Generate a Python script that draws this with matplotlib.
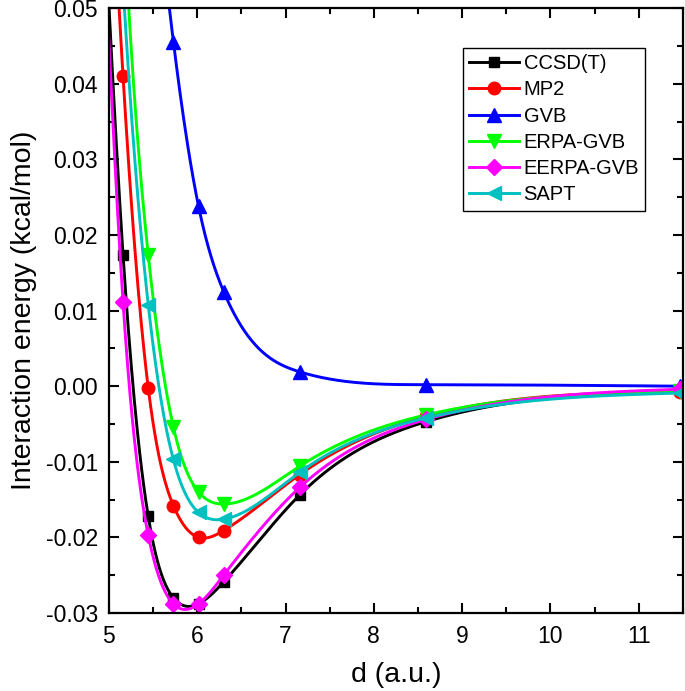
import numpy as np
import matplotlib
matplotlib.use('Agg')
import matplotlib.pyplot as plt

plt.rcParams['font.family'] = ['Liberation Sans', 'DejaVu Sans']

# Separation d (a.u.); first point lies just left of the frame
d = [4.875, 5.16, 5.445, 5.73, 6.015, 6.30, 7.16, 8.59, 11.47]

# Interaction energies (kcal/mol)
ccsdt = [0.080, 0.0174, -0.0172, -0.0280, -0.0288, -0.0259, -0.0144, -0.0047, -0.0007]
mp2 = [0.105, 0.0410, -0.0002, -0.0158, -0.0200, -0.0191, -0.0117, -0.0040, -0.0008]
gvb = [0.190, 0.125, 0.078, 0.0456, 0.0238, 0.0125, 0.0019, 0.0002, 0.0000]
erpa = [0.150, 0.064, 0.0174, -0.0054, -0.0140, -0.0156, -0.0106, -0.0038, -0.0007]
eerpa = [0.078, 0.0111, -0.0197, -0.0288, -0.0288, -0.0250, -0.0134, -0.0044, -0.0004]
sapt = [0.120, 0.053, 0.0108, -0.0097, -0.0167, -0.0176, -0.0114, -0.0042, -0.0009]

names = ['CCSD(T)', 'MP2', 'GVB', 'ERPA-GVB', 'EERPA-GVB', 'SAPT']
series = [ccsdt, mp2, gvb, erpa, eerpa, sapt]
colors = ['#000000', '#ff0000', '#0000ff', '#00ff00', '#ff00ff', '#00c0c0']
markers = ['s', 'o', '^', 'v', 'D', '<']
msizes = [7.5, 9, 9.5, 9.5, 8, 9.5]


def natural_spline(x, y, xs):
    # plain natural cubic spline, like Origin's "spline" connection
    x = np.asarray(x, float); y = np.asarray(y, float)
    n = len(x); h = np.diff(x)
    A = np.zeros((n, n)); r = np.zeros(n)
    A[0, 0] = 1; A[-1, -1] = 1
    for i in range(1, n-1):
        A[i, i-1] = h[i-1]; A[i, i] = 2*(h[i-1]+h[i]); A[i, i+1] = h[i]
        r[i] = 6*((y[i+1]-y[i])/h[i] - (y[i]-y[i-1])/h[i-1])
    M = np.linalg.solve(A, r)
    k = np.clip(np.searchsorted(x, xs) - 1, 0, n-2)
    t0 = x[k+1]-xs; t1 = xs-x[k]; hk = h[k]
    return (M[k]*t0**3 + M[k+1]*t1**3)/(6*hk) + (y[k]/hk - M[k]*hk/6)*t0 \
        + (y[k+1]/hk - M[k+1]*hk/6)*t1


fig = plt.figure(figsize=(6.85, 6.91), dpi=100)
ax = fig.add_axes([0.159, 0.113, 0.838, 0.875])

xs = np.linspace(d[0], d[-1], 800)
for y, nm, c, m, ms in zip(series, names, colors, markers, msizes):
    ax.plot(xs, natural_spline(d, y, xs), color=c, lw=2.1)
    ax.plot(d, y, ls='none', marker=m, ms=ms, color=c, mec=c)
    ax.plot([], [], color=c, lw=2.1, marker=m, ms=ms, label=nm)

ax.set_xlim(5, 11.5)
ax.set_ylim(-0.03, 0.05)
ax.set_xticks(np.arange(5, 11.1, 1))
ax.set_xticks(np.arange(5.5, 11.6, 1), minor=True)
ax.set_yticks(np.arange(-0.03, 0.051, 0.01))
ax.set_yticks(np.arange(-0.025, 0.05, 0.01), minor=True)
ax.yaxis.set_major_formatter(matplotlib.ticker.FormatStrFormatter('%.2f'))
ax.tick_params(which='both', direction='in', top=True, right=True, width=1.5, labelsize=16.5)
ax.tick_params(which='major', length=7)
ax.tick_params(which='minor', length=4.5)
ax.tick_params(axis='x', pad=9)
ax.tick_params(axis='y', pad=8)
for s in ax.spines.values():
    s.set_linewidth(1.6)

ax.set_xlabel('d (a.u.)', fontsize=20.5, labelpad=10)
ax.set_ylabel('Interaction energy (kcal/mol)', fontsize=20.5, labelpad=6)

leg = ax.legend(loc='upper left', bbox_to_anchor=(0.617, 0.934), borderaxespad=0,
                fontsize=14.5, handlelength=2.5, handletextpad=0.2, labelspacing=0.36,
                borderpad=0.3, fancybox=False, framealpha=1, edgecolor='black')
leg.get_frame().set_linewidth(1.0)

fig.savefig('out.png', dpi=100)
